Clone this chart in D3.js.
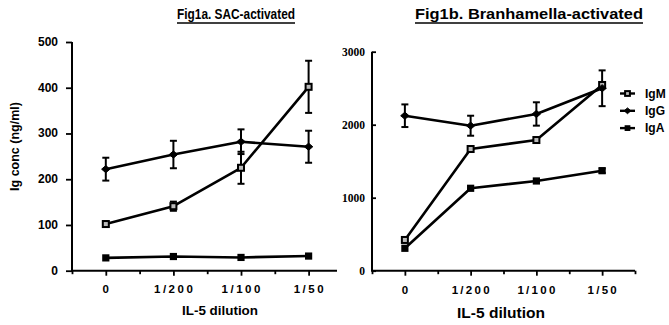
<!DOCTYPE html>
<html>
<head>
<meta charset="utf-8">
<script src="https://cdn.jsdelivr.net/npm/d3@7"></script>
<style>
  html, body { margin: 0; padding: 0; background: #fff; }
  svg { display: block; }
  text { font-family: "Liberation Sans", Arial, sans-serif; font-weight: bold; fill: #000; }
</style>
</head>
<body>
<svg id="chart" width="669" height="325"></svg>
<script>
// IL-5 dilution steps on the x axis
const categories = ["0", "1/200", "1/100", "1/50"];

// Fig 1a: SAC-activated cultures (ng/ml), mean and error
const sacIgM = [102, 141, 225, 402];
const sacIgMErr = [6, 10, 35, 57];
const sacIgG = [222, 254, 282, 271];
const sacIgGErr = [25, 30, 27, 35];
const sacIgA = [28, 31, 29, 32];
const sacIgAErr = [0, 0, 0, 0];
const sacTicks = [0, 100, 200, 300, 400, 500];

// Fig 1b: Branhamella-activated cultures (ng/ml), mean and error
const braIgM = [421, 1667, 1790, 2544];
const braIgMErr = [0, 0, 0, 0];
const braIgG = [2123, 1986, 2147, 2499];
const braIgGErr = [155, 137, 160, 245];
const braIgA = [307, 1129, 1229, 1370];
const braIgAErr = [0, 0, 0, 30];
const braTicks = [0, 1000, 2000, 3000];

const seriesNames = ["IgM", "IgG", "IgA"];

const svg = d3.select("#chart");

// marker drawing per immunoglobulin class; k scales the marker size
function drawMarker(g, name, x, y, k = 1) {
  if (name === "IgG") {
    const w = 4.2 * k, h = 3.6 * k;
    g.append("path")
      .attr("d", `M${x - w},${y} L${x},${y - h} L${x + w},${y} L${x},${y + h} Z`)
      .attr("fill", "#000").attr("stroke", "#000").attr("stroke-width", 1);
  } else if (name === "IgM") {
    const s = 3 * k;
    g.append("rect").attr("x", x - s).attr("y", y - s).attr("width", 2 * s).attr("height", 2 * s)
      .attr("fill", "#bbb").attr("stroke", "#000").attr("stroke-width", 2);
  } else {
    const s = 3.6 * k;
    g.append("rect").attr("x", x - s).attr("y", y - s).attr("width", 2 * s).attr("height", 2 * s)
      .attr("fill", "#000");
  }
}

function panel(cfg) {
  const g = svg.append("g");
  const x = d3.scaleLinear().domain(cfg.xDomain).range(cfg.xRange);
  const y = d3.scaleLinear().domain([0, cfg.yMax]).range(cfg.yRange);

  // x axis: labelled ticks at each dilution, short ticks half-way between
  const xTicks = d3.range(0, cfg.xDomain[1] + 0.001, 0.5).concat([-0.5]);
  const xAxis = d3.axisBottom(x).tickValues(xTicks).tickSize(0).tickFormat("");
  const xa = g.append("g").attr("transform", `translate(0,${cfg.yRange[0]})`).call(xAxis);
  xa.select(".domain").attr("stroke", "#000").attr("stroke-width", 2).attr("d", `M${cfg.xRange[0]},0H${cfg.xRange[1]}`);
  xa.selectAll(".tick line")
    .attr("stroke", "#000").attr("stroke-width", 1.8)
    .attr("y2", d => Number.isInteger(d) ? 5 : 3.5);
  xa.selectAll(".tick text").remove();

  categories.forEach((c, i) => {
    g.append("text")
      .attr("x", x(i) + cfg.xLabelLS / 2).attr("y", cfg.xLabelY)
      .attr("text-anchor", "middle")
      .style("font-size", cfg.xLabelSize + "px")
      .style("letter-spacing", cfg.xLabelLS + "px")
      .text(c);
  });

  // y axis
  const yAxis = (cfg.yInward ? d3.axisRight(y) : d3.axisLeft(y))
    .tickValues(cfg.yTicks).tickSize(cfg.yTickLen).tickFormat("");
  const ya = g.append("g").attr("transform", `translate(${cfg.xRange[0]},0)`).call(yAxis);
  ya.select(".domain").attr("stroke", "#000").attr("stroke-width", 2)
    .attr("d", `M0,${cfg.yRange[0] + 1}V${cfg.yRange[1]}`);
  ya.selectAll(".tick line").attr("stroke", "#000").attr("stroke-width", 1.8);

  cfg.yTicks.forEach(t => {
    g.append("text")
      .attr("x", cfg.yLabelX).attr("y", y(t) + 4)
      .attr("text-anchor", "end")
      .style("font-size", cfg.yLabelSize + "px")
      .style("font-family", cfg.yLabelFont)
      .text(t);
  });

  // series: lines, error bars, markers
  const line = d3.line().x((d, i) => x(i)).y(d => y(d));
  cfg.series.forEach(s => {
    g.append("path").datum(s.values)
      .attr("d", line)
      .attr("fill", "none").attr("stroke", "#000").attr("stroke-width", 2.6)
      .attr("stroke-linejoin", "round");
  });
  cfg.series.forEach(s => {
    s.values.forEach((v, i) => {
      const e = s.err[i];
      if (!e) return;
      const cx = x(i), y0 = y(v - e), y1 = y(v + e);
      g.append("line").attr("x1", cx).attr("x2", cx).attr("y1", y0).attr("y2", y1)
        .attr("stroke", "#000").attr("stroke-width", 2);
      [y0, y1].forEach(yy => g.append("line")
        .attr("x1", cx - 3.5).attr("x2", cx + 3.5).attr("y1", yy).attr("y2", yy)
        .attr("stroke", "#000").attr("stroke-width", 2));
    });
  });
  cfg.series.forEach(s => {
    s.values.forEach((v, i) => drawMarker(g, s.name, x(i), y(v)));
  });

  // title, underlined
  g.append("text")
    .attr("x", cfg.titleX).attr("y", 19)
    .attr("textLength", cfg.titleW).attr("lengthAdjust", "spacingAndGlyphs")
    .style("font-size", "14px")
    .text(cfg.title);
  g.append("line")
    .attr("x1", cfg.titleX).attr("x2", cfg.titleX + cfg.titleW)
    .attr("y1", 23).attr("y2", 23)
    .attr("stroke", "#000").attr("stroke-width", 1.4);

  // x axis title
  g.append("text")
    .attr("x", cfg.xTitleX).attr("y", cfg.xTitleY)
    .attr("textLength", cfg.xTitleW).attr("lengthAdjust", "spacingAndGlyphs")
    .style("font-size", cfg.xTitleSize + "px")
    .text("IL-5 dilution");

  return { g, x, y };
}

panel({
  title: "Fig1a. SAC-activated", titleX: 177, titleW: 118,
  xDomain: [-0.5, 3.42], xRange: [72, 337],
  yMax: 500, yRange: [270.7, 42], yTicks: sacTicks, yTickLen: 6, yInward: false,
  yLabelX: 58, yLabelSize: 12, yLabelFont: "Liberation Sans, Arial, sans-serif",
  xLabelY: 293, xLabelSize: 11.5, xLabelLS: 2.5,
  xTitleX: 182, xTitleY: 315, xTitleW: 76, xTitleSize: 13,
  series: [
    { name: "IgM", values: sacIgM, err: sacIgMErr },
    { name: "IgG", values: sacIgG, err: sacIgGErr },
    { name: "IgA", values: sacIgA, err: sacIgAErr }
  ]
});

panel({
  title: "Fig1b. Branhamella-activated", titleX: 415, titleW: 228,
  xDomain: [-0.5, 3.5], xRange: [372, 635],
  yMax: 3000, yRange: [270.7, 51.7], yTicks: braTicks, yTickLen: 4, yInward: true,
  yLabelX: 365, yLabelSize: 11.5, yLabelFont: "Liberation Serif, Times New Roman, serif",
  xLabelY: 294, xLabelSize: 11.5, xLabelLS: 2.3,
  xTitleX: 457, xTitleY: 318, xTitleW: 88, xTitleSize: 14,
  series: [
    { name: "IgM", values: braIgM, err: braIgMErr },
    { name: "IgG", values: braIgG, err: braIgGErr },
    { name: "IgA", values: braIgA, err: braIgAErr }
  ]
});

// y axis title of the left panel
svg.append("text")
  .attr("transform", "translate(19,146.5) rotate(-90)")
  .attr("text-anchor", "middle")
  .style("font-size", "12.5px")
  .text("Ig conc (ng/ml)");

// legend
const legend = svg.append("g");
seriesNames.forEach((n, i) => {
  const ly = 93.5 + i * 17.3;
  legend.append("line").attr("x1", 620).attr("x2", 635).attr("y1", ly).attr("y2", ly)
    .attr("stroke", "#000").attr("stroke-width", 2.4);
  drawMarker(legend, n, 627.5, ly, 0.8);
  legend.append("text").attr("x", 645).attr("y", ly + 4.3)
    .style("font-size", "12px").text(n);
});
</script>
</body>
</html>
